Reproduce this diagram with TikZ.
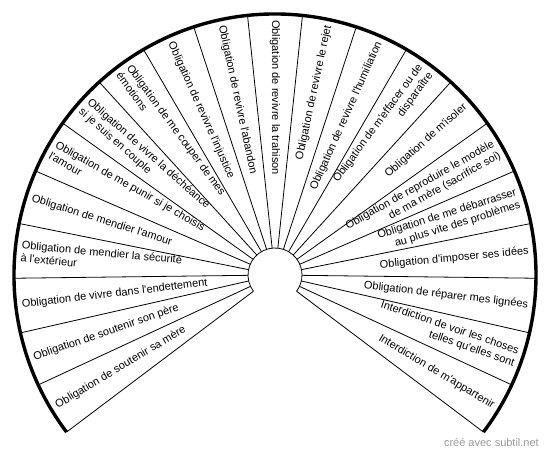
\documentclass[tikz,border=0pt]{standalone}
\usepackage{fontspec}
\newfontfamily\lab{Liberation Sans}
\begin{document}
\begin{tikzpicture}[x=1pt,y=1pt,
  spoke/.style={line width=0.8pt},
  rim/.style={line width=3.4pt},
  hub/.style={line width=0.8pt},
  labtxt/.style={font=\lab\fontsize{11}{13}\selectfont, inner sep=0pt},
  wmark/.style={font=\lab\fontsize{11}{12}\selectfont, text=black!40, inner sep=0pt}]
\useasboundingbox (0,0) rectangle (550,457);
\coordinate (C) at (275,182);
\def\R{261}
\def\r{27}
\def\st{12.0952}
\draw[rim] ([shift={(217:\R)}]C) arc[start angle=217, end angle=-37, radius=\R];
\draw[hub] ([shift={(217:\r)}]C) arc[start angle=217, end angle=-37, radius=\r];
\foreach \k in {0,...,21}{
  \pgfmathsetmacro\a{217-\k*\st}
  \coordinate (i\k) at ([shift={(\a:\r)}]C);
  \coordinate (o\k) at ([shift={(\a:\R)}]C);
  \draw[spoke] (i\k) -- (o\k);
}
\foreach \i/\t in {
  1/{Obligation de soutenir sa mère},
  2/{Obligation de soutenir son père},
  3/{Obligation de vivre dans l'endettement},
  4/{Obligation de mendier la sécurité\\à l'extérieur},
  5/{Obligation de mendier l'amour},
  6/{Obligation de me punir si je choisis\\l'amour},
  7/{Obligation de vivre la déchéance\\si je suis en couple},
  8/{Obligation de me couper de mes\\émotions},
  9/{Obligation de revivre l'injustice},
  10/{Obligation de revivre l'abandon},
  11/{Obligation de revivre la trahison},
  12/{Obligation de revivre le rejet},
  13/{Obligation de revivre l'humiliation},
  14/{Obligation de m'effacer ou de\\disparaître},
  15/{Obligation de m'isoler},
  16/{Obligation de reproduire le modèle\\de ma mère (sacrifice soi)},
  17/{Obligation de me débarrasser\\au plus vite des problèmes},
  18/{Obligation d'imposer ses idées},
  19/{Obligation de réparer mes lignées},
  20/{Interdiction de voir les choses\\telles qu'elles sont},
  21/{Interdiction de m'appartenir}}{
  \pgfmathsetmacro\a{217-(\i-0.5)*\st}
  \pgfmathsetmacro\b{\a+180}
  \ifdim\a pt>89pt
    \node[labtxt, rotate=\b, anchor=west, align=left] (l\i) at ([shift={(\a:255)}]C) {\t};
  \else
    \node[labtxt, rotate=\a, anchor=east, align=right] (l\i) at ([shift={(\a:255)}]C) {\t};
  \fi
}
\node[wmark, anchor=base east] (wm) at (539,10) {créé avec subtil.net};
\end{tikzpicture}
\end{document}
